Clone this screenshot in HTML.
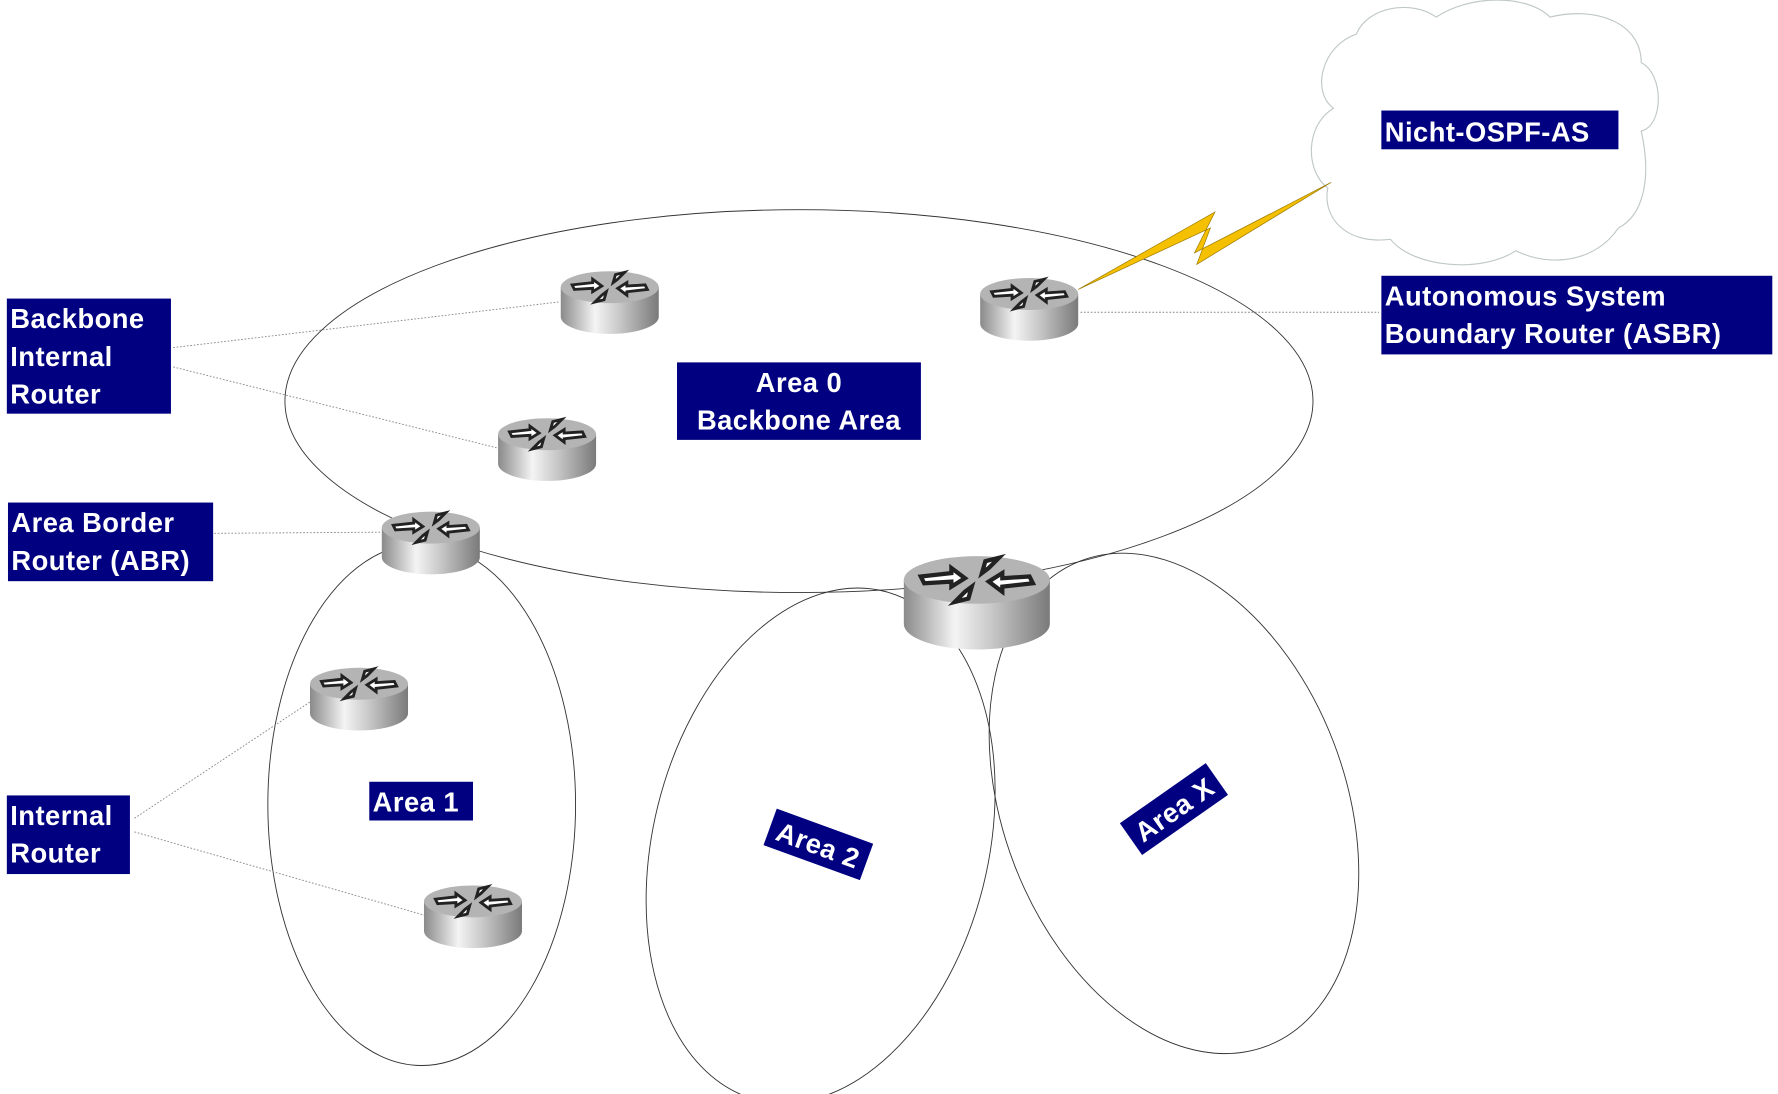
<!DOCTYPE html>
<html><head><meta charset="utf-8"><style>
html,body{margin:0;padding:0;background:#fff;}
svg{display:block;}
text{font-family:"Liberation Sans",Arial,sans-serif;font-weight:bold;font-size:24px;fill:#fff;letter-spacing:0.4px;}
</style></head><body>
<svg width="1778" height="1094" viewBox="0 0 1560 960" preserveAspectRatio="none" xmlns="http://www.w3.org/2000/svg">
<defs>
<linearGradient id="side" x1="0" x2="1" y1="0" y2="0">
<stop offset="0" stop-color="#8a8a8a"/><stop offset="0.35" stop-color="#f4f4f4"/><stop offset="0.6" stop-color="#c8c8c8"/><stop offset="1" stop-color="#7a7a7a"/>
</linearGradient>
<g id="rt">
<path d="M0,14 L0,40 A43,15 0 0 0 86,40 L86,14 Z" fill="url(#side)"/>
<ellipse cx="43" cy="14" rx="43" ry="14" fill="#b4b4b4"/>
<g stroke="#222" stroke-width="2.5" fill="#fff">
<path d="M10,12 L28,10 L28,7 L36,13 L28,18 L28,15 L12,16 Z"/>
<path d="M76,16 L58,18 L58,21 L50,15 L58,10 L58,13 L74,12 Z"/>
<path d="M48,3 L56,1 L50,7 L46,10 Z"/>
<path d="M38,25 L30,27 L36,21 L40,18 Z"/>
</g>
</g>
</defs>

<path d="M1170,95 C1150,80 1160,40 1190,30 C1200,5 1240,0 1260,15 C1290,-5 1340,-5 1360,15 C1400,5 1440,20 1440,55 C1460,65 1460,110 1440,115 C1450,160 1440,190 1420,200 C1400,230 1360,235 1330,220 C1300,240 1240,235 1220,210 C1180,215 1160,190 1165,165 C1145,150 1145,110 1170,95 Z" fill="#fff" stroke="#c0c8c8" stroke-width="1"/>

<g fill="none" stroke="#333" stroke-width="0.8">
<ellipse cx="701" cy="352" rx="451" ry="168"/>
<ellipse cx="370" cy="706" rx="135" ry="229"/>
<ellipse cx="720" cy="742" rx="147" ry="230" transform="rotate(14 720 742)"/>
<ellipse cx="1030" cy="705" rx="150" ry="228" transform="rotate(-21 1030 705)"/>
</g>

<g stroke="#888" stroke-width="0.8" stroke-dasharray="1.5,1.5" fill="none">
<line x1="152" y1="305" x2="490" y2="265"/>
<line x1="152" y1="322" x2="436" y2="393"/>
<line x1="188" y1="468" x2="334" y2="467"/>
<line x1="118" y1="718" x2="272" y2="616"/>
<line x1="118" y1="730" x2="372" y2="803"/>
<line x1="948" y1="274" x2="1210" y2="274"/>
</g>

<polygon points="946,254 1066,186 1048,222 1168,160 1050,232 1062,200" fill="#f5c000" stroke="#9a7a00" stroke-width="0.6"/>

<use href="#rt" x="492" y="238"/>
<use href="#rt" x="860" y="244"/>
<use href="#rt" x="437" y="367"/>
<use href="#rt" x="335" y="449"/>
<use href="#rt" x="272" y="586"/>
<use href="#rt" x="372" y="777"/>
<use href="#rt" transform="translate(793,488) scale(1.49)"/>

<g fill="#000080">
<rect x="1212" y="97" width="208" height="34"/>
<rect x="6" y="262" width="144" height="101"/>
<rect x="7" y="441" width="180" height="69"/>
<rect x="6" y="698" width="108" height="69"/>
<rect x="594" y="318" width="214" height="68"/>
<rect x="1212" y="242" width="343" height="69"/>
<rect x="324" y="686" width="91" height="34"/>
</g>
<text x="1215" y="124">Nicht-OSPF-AS</text>
<text x="9" y="288">Backbone</text>
<text x="9" y="321">Internal</text>
<text x="9" y="354">Router</text>
<text x="10" y="467">Area Border</text>
<text x="10" y="500">Router (ABR)</text>
<text x="9" y="724">Internal</text>
<text x="9" y="757">Router</text>
<text x="701" y="344" text-anchor="middle">Area 0</text>
<text x="701" y="377" text-anchor="middle">Backbone Area</text>
<text x="1215" y="268">Autonomous System</text>
<text x="1215" y="301">Boundary Router (ASBR)</text>
<text x="327" y="712">Area 1</text>
<g transform="translate(718,741) rotate(20)">
<rect x="-45" y="-17" width="90" height="34" fill="#000080"/>
<text x="0" y="9" text-anchor="middle">Area 2</text>
</g>
<g transform="translate(1030,710) rotate(-35)">
<rect x="-46" y="-17" width="92" height="34" fill="#000080"/>
<text x="0" y="9" text-anchor="middle">Area X</text>
</g>
</svg>
</body></html>
